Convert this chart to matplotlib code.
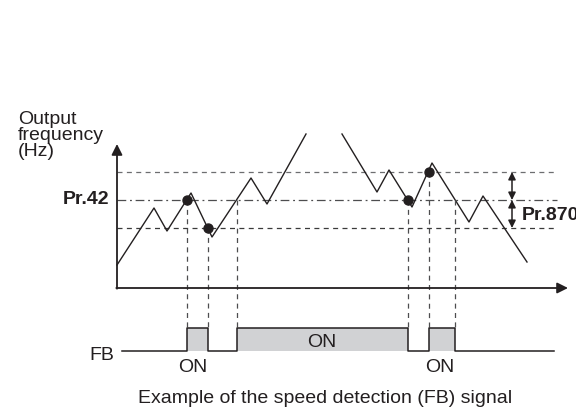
import matplotlib
matplotlib.use('Agg')
import matplotlib.pyplot as plt
import numpy as np

plt.rcParams['font.family'] = ['Liberation Sans', 'DejaVu Sans']

# Output frequency trace (time, Hz in diagram units), two visible pieces
t_rise = [0, 37, 50, 74, 95, 134, 150, 189]
f_rise = [23, 80, 57, 95, 51, 110, 84, 154]
t_fall = [225, 260, 272, 295, 315, 352, 366, 410]
f_fall = [154, 96, 118, 81, 125, 66, 92, 26]

# Levels
pr42 = 88
band = 28
upper = pr42 + band
lower = pr42 - band

# FB switching instants and the level each one crosses
fb_times = [69.5, 90.7, 119.5, 290.5, 311.5, 338.0]
fb_levels = [pr42, lower, pr42, pr42, upper, pr42]
dot_idx = [0, 1, 3, 4]
fb_on = [(69.5, 90.7), (119.5, 290.5), (311.5, 338.0)]

fb_low = -63
fb_high = -40
fb_start = 5
fb_end = 437

ink = '#231f20'

fig = plt.figure(figsize=(5.76, 4.11), dpi=100)
ax = fig.add_axes([0, 0, 1, 1])
ax.set_xlim(-117, 459)
ax.set_ylim(-123, 288)
ax.axis('off')

# reference lines
ax.plot([0, 440], [upper, upper], color='#6d6e70', lw=0.9, dashes=(4, 3.5))
ax.plot([0, 440], [pr42, pr42], color='#4d4d4f', lw=0.9, dashes=(7, 3, 1.5, 3))
ax.plot([0, 440], [lower, lower], color='#3a3a3a', lw=0.9, dashes=(4, 3.5))

# axes with arrows
ax.annotate('', xy=(0, 144), xytext=(0, -0.7),
            arrowprops=dict(arrowstyle='-|>', color=ink, lw=1.3,
                            mutation_scale=16, shrinkA=0, shrinkB=0))
ax.annotate('', xy=(451, 0), xytext=(-0.7, 0),
            arrowprops=dict(arrowstyle='-|>', color=ink, lw=1.3,
                            mutation_scale=16, shrinkA=0, shrinkB=0))

# frequency trace
ax.plot(t_rise, f_rise, color=ink, lw=1.0)
ax.plot(t_fall, f_fall, color=ink, lw=1.0)

# vertical dashed projections down to FB signal
for t, lev in zip(fb_times, fb_levels):
    ax.plot([t, t], [lev, fb_high], color='#4d4d4f', lw=0.9, dashes=(4, 3.5))

ax.scatter([fb_times[i] for i in dot_idx], [fb_levels[i] for i in dot_idx],
           s=42, color=ink, zorder=5)

# Pr.870 band arrows
for a, b in [(upper, pr42), (pr42, lower)]:
    ax.annotate('', xy=(395, a), xytext=(395, b),
                arrowprops=dict(arrowstyle='<|-|>', color=ink, lw=1.1,
                                mutation_scale=11, shrinkA=0, shrinkB=0))

# FB signal
fb_t = [fb_start]
fb_v = [fb_low]
for on, off in fb_on:
    fb_t += [on, on, off, off]
    fb_v += [fb_low, fb_high, fb_high, fb_low]
    ax.fill_between([on, off], fb_low, fb_high, color='#d1d2d4', lw=0)
fb_t.append(fb_end)
fb_v.append(fb_low)
ax.plot(fb_t, fb_v, color=ink, lw=1.1)

# texts
fs = 14
ax.text(-99, 177, 'Output\nfrequency\n(Hz)', fontsize=fs, color=ink,
        ha='left', va='top', linespacing=0.92)
ax.text(-8, pr42, 'Pr.42', fontsize=fs, color=ink, fontweight='bold',
        ha='right', va='center')
ax.text(405, lower + band / 2 - 1, 'Pr.870', fontsize=fs, color=ink,
        fontweight='bold', ha='left', va='center')
ax.text(-3, -67, 'FB', fontsize=fs, color=ink, ha='right', va='center')
ax.text(76, -79, 'ON', fontsize=fs, color=ink, ha='center', va='center')
ax.text(205, -54, 'ON', fontsize=fs, color=ink, ha='center', va='center')
ax.text(323, -79, 'ON', fontsize=fs, color=ink, ha='center', va='center')
ax.text(208, -110, 'Example of the speed detection (FB) signal', fontsize=fs,
        color=ink, ha='center', va='center')

fig.savefig('out.png', dpi=100, facecolor='white')
